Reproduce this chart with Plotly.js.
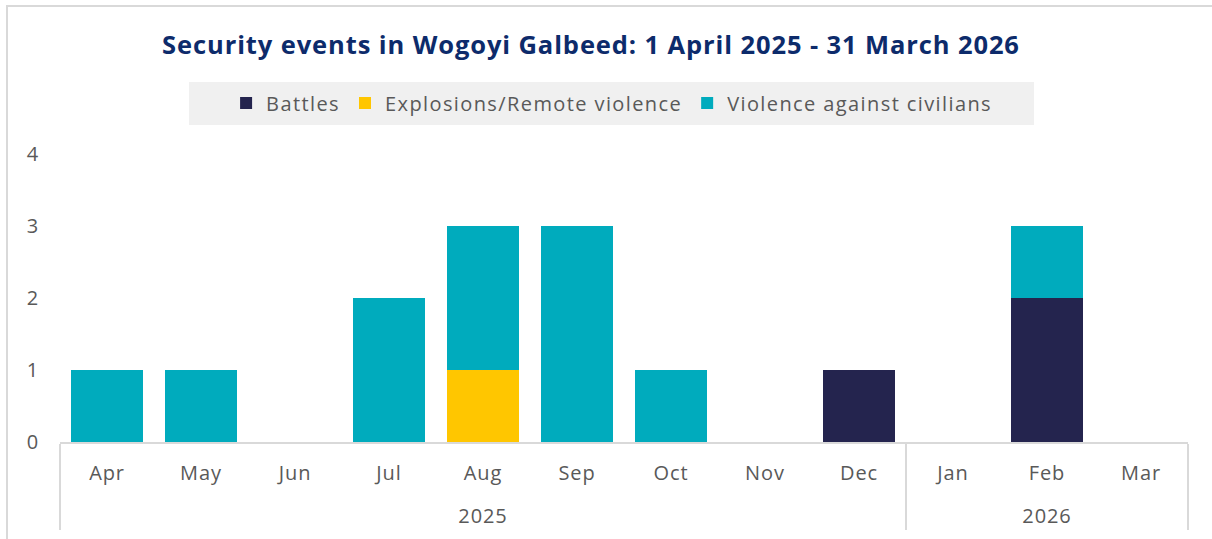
<!DOCTYPE html>
<html>
<head>
<meta charset="utf-8">
<script src="https://cdn.plot.ly/plotly-3.0.1.min.js"></script>
<style>
  html, body { margin: 0; padding: 0; background: #ffffff; }
  #chart { width: 1212px; height: 539px; }
  svg text { letter-spacing: 0.9px; }
  svg text.legendtext { letter-spacing: 1.4px; }
</style>
</head>
<body>
<div id="chart"></div>
<script>
const months = ["Apr", "May", "Jun", "Jul", "Aug", "Sep", "Oct", "Nov", "Dec", "Jan", "Feb", "Mar"];
const years = ["2025", "2025", "2025", "2025", "2025", "2025", "2025", "2025", "2025", "2026", "2026", "2026"];
const battles = [0, 0, 0, 0, 0, 0, 0, 0, 1, 0, 2, 0];
const explosions = [0, 0, 0, 0, 1, 0, 0, 0, 0, 0, 0, 0];
const violence = [1, 1, 0, 2, 2, 3, 1, 0, 0, 0, 1, 0];

const FONT = "'Open Sans', Lato, sans-serif";
const TXT = "#595959";

// year row is pushed one line lower to leave the gap seen in the reference
const yearLabels = years.map(y => "<br>" + y);

function bar(name, values, color) {
  return {
    type: "bar",
    name: name,
    x: [yearLabels, months],
    y: values,
    marker: { color: color, line: { width: 0 } },
    hoverinfo: "x+y+name"
  };
}

const data = [
  bar("Battles", battles, "#24244e"),
  bar("Explosions/Remote violence", explosions, "#ffc600"),
  bar("Violence against civilians", violence, "#00abbd")
];

const layout = {
  width: 1212,
  height: 539,
  paper_bgcolor: "#ffffff",
  plot_bgcolor: "#ffffff",
  barmode: "stack",
  bargap: 0.23,
  margin: { l: 60, r: 24, t: 154, b: 97, pad: 0 },
  font: { family: FONT, color: TXT, size: 20 },
  title: {
    text: "<b>Security events in Wogoyi Galbeed: 1 April 2025 - 31 March 2026</b>",
    font: { family: FONT, size: 25.5, color: "#0d2b6b" },
    xref: "container", yref: "container",
    x: 0.4876, xanchor: "center",
    y: 0.9165, yanchor: "middle"
  },
  showlegend: true,
  legend: {
    orientation: "h",
    xref: "paper", yref: "paper",
    x: 0.489, xanchor: "center",
    y: 1.177, yanchor: "middle",
    bgcolor: "rgba(0,0,0,0)",
    font: { family: FONT, size: 20, color: TXT },
    traceorder: "normal"
  },
  xaxis: {
    type: "multicategory",
    showline: true,
    linecolor: "#d9d9d9",
    linewidth: 2,
    showgrid: false,
    zeroline: false,
    ticks: "",
    showdividers: true,
    dividercolor: "#d9d9d9",
    dividerwidth: 2,
    ticklabelstandoff: 12,
    tickfont: { family: FONT, size: 20, color: TXT }
  },
  yaxis: {
    range: [0, 4],
    dtick: 1,
    tick0: 0,
    showgrid: false,
    zeroline: false,
    showline: false,
    ticks: "",
    ticklabelstandoff: 20,
    tickfont: { family: FONT, size: 20, color: TXT }
  },
  shapes: [
    {
      type: "rect", xref: "paper", yref: "paper", layer: "below",
      x0: (7 - 60) / 1128, x1: (1230 - 60) / 1128,
      y0: (442 - 560) / 288, y1: (442 - 6) / 288,
      line: { color: "#d9d9d9", width: 2 }, fillcolor: "rgba(0,0,0,0)"
    },
    {
      type: "rect", xref: "paper", yref: "paper", layer: "below",
      x0: (189 - 60) / 1128, x1: (1034 - 60) / 1128,
      y0: (442 - 125) / 288, y1: (442 - 82) / 288,
      line: { width: 0 }, fillcolor: "#f0f0f0"
    }
  ]
};

Plotly.newPlot("chart", data, layout, { displayModeBar: false, staticPlot: true });
</script>
</body>
</html>
